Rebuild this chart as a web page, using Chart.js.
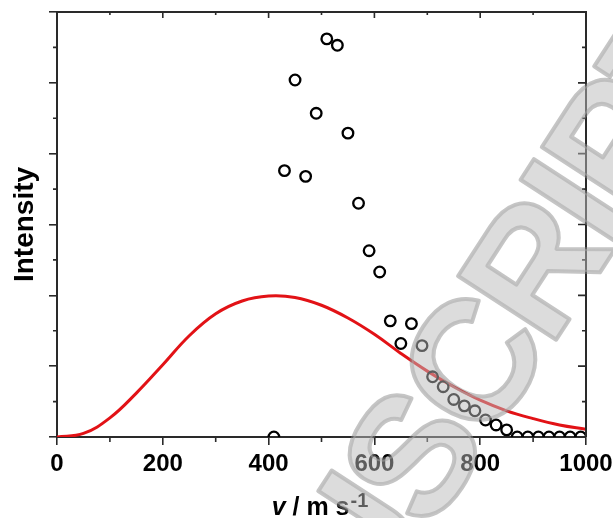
<!DOCTYPE html>
<html>
<head>
<meta charset="utf-8">
<script src="https://cdn.jsdelivr.net/npm/chart.js@4/dist/chart.umd.min.js"></script>
<style>
html,body{margin:0;padding:0;background:#fff;}
#wrap{width:613px;height:518px;position:relative;}
</style>
</head>
<body>
<div id="wrap"><canvas id="c" width="613" height="518"></canvas></div>
<script>
// ---- data ----
const expVelocity = [410,430,450,470,490,510,530,550,570,590,610,630,650,670,690,710,730,750,770,790,810,830,850,870,890,910,930,950,970,990];
const expIntensity = [0,3.76,5.04,3.68,4.57,5.62,5.53,4.29,3.30,2.63,2.33,1.64,1.32,1.60,1.29,0.85,0.71,0.53,0.44,0.37,0.24,0.17,0.10,0,0,0,0,0,0,0];
const fitVelocity = [0,50,100,150,200,250,300,350,400,450,500,550,600,650,700,750,800,850,900,950,1000];
const fitIntensity = [0,0.05,0.27,0.62,1.02,1.43,1.74,1.92,1.99,1.97,1.86,1.68,1.45,1.18,0.93,0.71,0.52,0.37,0.26,0.17,0.11];
const xTickValues = [0,200,400,600,800,1000];
const xTitleMain = 'v / m s';
const xTitleSup = '-1';
const yTitle = 'Intensity';
const watermarkText = ['MANU','SCRIPT'];

const FONT = "'Liberation Sans', Arial, Helvetica, sans-serif";
const AXIS = '#2a2a2a';

const framePlugin = {
  id: 'frame',
  afterDatasetsDraw(chart) {
    const {ctx, chartArea: {left, right, top, bottom}, scales: {x, y}} = chart;
    ctx.save();
    ctx.strokeStyle = AXIS;
    ctx.lineCap = 'butt';
    ctx.lineWidth = 2;
    ctx.beginPath();
    ctx.moveTo(left - 1, top); ctx.lineTo(right, top); ctx.lineTo(right, bottom);
    ctx.stroke();
    ctx.lineWidth = 1.6;
    ctx.beginPath();
    const xt = x.ticks.map(t => t.value);
    for (let i = 0; i < xt.length; i++) {
      const px = x.getPixelForValue(xt[i]);
      ctx.moveTo(px, top); ctx.lineTo(px, top + 6);
      if (i < xt.length - 1) {
        const mx = x.getPixelForValue((xt[i] + xt[i + 1]) / 2);
        ctx.moveTo(mx, bottom); ctx.lineTo(mx, bottom + 5);
        ctx.moveTo(mx, top); ctx.lineTo(mx, top + 3);
      }
    }
    const yt = y.ticks.map(t => t.value);
    for (let i = 0; i < yt.length; i++) {
      const py = y.getPixelForValue(yt[i]);
      ctx.moveTo(right, py); ctx.lineTo(right - 8, py);
      if (i < yt.length - 1) {
        const my = y.getPixelForValue((yt[i] + yt[i + 1]) / 2);
        ctx.moveTo(left, my); ctx.lineTo(left - 4, my);
        ctx.moveTo(right, my); ctx.lineTo(right - 4, my);
      }
    }
    ctx.stroke();
    ctx.restore();
  }
};

const xTitlePlugin = {
  id: 'xtitle',
  afterDraw(chart) {
    const {ctx, chartArea: {left, right}} = chart;
    ctx.save();
    ctx.fillStyle = '#000';
    ctx.textBaseline = 'alphabetic';
    ctx.font = 'italic bold 25px ' + FONT;
    const vW = ctx.measureText('v').width;
    ctx.font = 'bold 25px ' + FONT;
    const restTxt = xTitleMain.slice(1);
    const restW = ctx.measureText(restTxt).width;
    ctx.font = 'bold 20px ' + FONT;
    const supW = ctx.measureText(xTitleSup).width;
    const total = vW + restW + supW;
    const cx = (left + right) / 2 - 2;
    let x0 = cx - total / 2;
    const base = 515;
    ctx.font = 'italic bold 25px ' + FONT;
    ctx.fillText('v', x0, base);
    ctx.font = 'bold 25px ' + FONT;
    ctx.fillText(restTxt, x0 + vW, base);
    ctx.font = 'bold 20px ' + FONT;
    ctx.fillText(xTitleSup, x0 + vW + restW + 1, base - 8);
    ctx.restore();
  }
};

const watermarkPlugin = {
  id: 'watermark',
  afterDraw(chart) {
    const ctx = chart.ctx;
    ctx.save();
    ctx.translate(430, 534);
    ctx.rotate(-57 * Math.PI / 180);
    ctx.font = 'bold 170px ' + FONT;
    if ('letterSpacing' in ctx) ctx.letterSpacing = '-8px';
    ctx.textBaseline = 'alphabetic';
    ctx.lineJoin = 'round';
    const draw = (txt, x) => {
      ctx.strokeStyle = 'rgba(140,140,140,0.5)';
      ctx.lineWidth = 4;
      ctx.strokeText(txt, x, 0);
      ctx.fillStyle = 'rgba(185,185,185,0.5)';
      ctx.fillText(txt, x, 0);
    };
    ctx.textAlign = 'left';
    draw(watermarkText[1], 0);
    ctx.textAlign = 'right';
    draw(watermarkText[0], 2);
    ctx.restore();
  }
};

new Chart(document.getElementById('c'), {
  data: {
    datasets: [
      {
        type: 'scatter',
        label: 'Experiment',
        data: expVelocity.map((v, i) => ({x: v, y: expIntensity[i]})),
        pointStyle: 'circle',
        pointRadius: 5.3,
        pointHoverRadius: 5.3,
        borderWidth: 2.3,
        borderColor: '#000',
        backgroundColor: 'rgba(0,0,0,0)',
        showLine: false
      },
      {
        type: 'line',
        label: 'Fit',
        data: fitVelocity.map((v, i) => ({x: v, y: fitIntensity[i]})),
        borderColor: 'rgb(226,18,22)',
        borderWidth: 3,
        pointRadius: 0,
        fill: false,
        tension: 0.4
      }
    ]
  },
  options: {
    responsive: false,
    animation: false,
    events: [],
    layout: {padding: {left: 8, right: 0, top: 12, bottom: 0}},
    plugins: {legend: {display: false}, tooltip: {enabled: false}},
    scales: {
      x: {
        type: 'linear',
        position: 'bottom',
        min: 0, max: 1000,
        afterBuildTicks: s => { s.ticks = xTickValues.map(v => ({value: v})); },
        ticks: {
          color: '#000',
          padding: 5,
          maxRotation: 0,
          autoSkip: false,
          callback: v => String(v),
          font: {family: FONT, size: 24, weight: 'bold'}
        },
        grid: {drawOnChartArea: false, drawTicks: true, tickLength: 8, color: AXIS, lineWidth: 1.6},
        border: {display: true, color: AXIS, width: 2},
        afterFit: s => { s.height = 81; s.paddingRight = 27; }
      },
      y: {
        type: 'linear',
        min: 0, max: 6,
        ticks: {stepSize: 1, callback: () => '', padding: 0},
        grid: {drawOnChartArea: false, drawTicks: true, tickLength: 8, color: AXIS, lineWidth: 1.6},
        border: {display: true, color: AXIS, width: 2},
        title: {display: true, text: yTitle, color: '#000', padding: 0,
          font: {family: FONT, size: 28, weight: 'bold'}},
        afterFit: s => { s.width = 49; }
      }
    }
  },
  plugins: [framePlugin, xTitlePlugin, watermarkPlugin]
});
</script>
</body>
</html>
